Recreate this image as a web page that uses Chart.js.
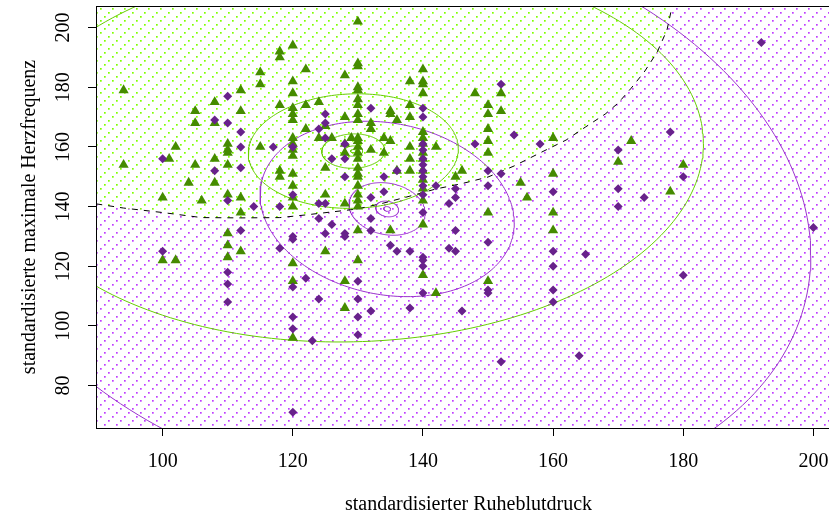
<!DOCTYPE html>
<html lang="de">
<head>
<meta charset="utf-8">
<script src="https://cdn.jsdelivr.net/npm/chart.js@4.4.0/dist/chart.umd.min.js"></script>
<style>
  html, body { margin: 0; padding: 0; background: #fff; overflow: hidden; }
  #wrap { width: 841px; height: 518px; }
</style>
</head>
<body>
<div id="wrap"><canvas id="plot" width="841" height="518"></canvas></div>
<script>
// Patienten ohne Herzerkrankung (Dreiecke)
const gesundX = [94,94,100,100,102,101,102,104,105,105,105,106,108,108,108,108,110,110,110,110,110,110,110,110,112,112,112,112,112,115,115,115,
  118,118,118,118,118,120,120,120,120,120,120,120,120,120,120,120,120,120,120,120,120,120,
  122,122,122,124,124,125,126,125,125,125,128,128,128,128,128,128,128,129,
  130,130,130,130,130,130,130,130,130,130,130,130,130,130,130,130,130,130,130,130,130,130,130,
  132,132,132,134,135,134,135,135,136,136,135,138,138,138,138,138,138,
  140,140,140,140,140,140,140,140,140,140,140,140,140,140,140,
  142,142,145,146,148,150,150,150,150,150,150,150,152,152,155,156,160,160,160,160,170,172,178,180];
const gesundY = [179,154,143,122,122,156,160,148,172,168,154,142,175,168,156,148,161,159,158,154,144,131,127,123,179,172,143,138,125,185,181,160,
  192,190,174,152,150,194,182,178,173,171,169,163,161,159,157,151,147,143,140,121,115,96,
  186,174,166,175,163,167,163,153,144,125,184,170,161,158,141,115,106,163,
  202,188,187,180,179,176,174,171,169,163,162,160,158,156,153,151,150,147,144,142,140,132,122,
  168,166,159,163,162,158,172,171,169,152,132,182,174,170,160,156,152,
  186,182,181,178,165,163,161,158,156,152,149,146,142,134,117,
  160,111,150,152,178,174,171,166,162,158,138,115,178,172,148,143,163,151,138,132,155,162,145,154];

// Patienten mit Herzerkrankung (Rauten)
const krankX = [100,100,108,108,110,110,110,110,110,110,112,112,112,112,114,117,118,118,
  120,120,120,120,120,120,120,120,
  122,123,124,124,124,124,125,125,125,125,125,126,126,128,128,128,128,128,
  130,130,130,130,
  132,132,132,132,132,134,134,135,136,136,138,138,
  140,140,140,140,140,140,140,140,140,140,140,140,140,140,140,
  142,144,144,145,145,145,145,146,148,150,150,150,150,150,152,152,152,154,158,160,160,160,160,160,164,165,170,170,170,174,178,180,180,192,200];
const krankY = [156,125,169,152,177,168,142,118,114,108,165,160,153,132,140,160,140,126,
  160,144,130,129,113,103,99,71,
  116,95,166,141,136,109,171,168,163,141,131,156,134,161,156,150,131,130,
  115,109,103,97,
  173,143,136,132,105,150,145,127,152,125,125,106,
  173,170,161,159,156,154,152,150,147,144,138,123,122,120,111,
  147,141,126,146,143,132,125,105,161,152,147,128,112,111,181,151,88,164,161,145,125,120,112,108,90,124,159,146,140,143,165,150,117,195,133];

// Achsen
const xTicks = [100, 120, 140, 160, 180, 200];
const yTicks = [80, 100, 120, 140, 160, 180, 200];
const xRange = [89.76, 204.24];
const yRange = [65.76, 207.24];

// Dichtekonturen je Klasse: Zentrum, Halbachsen der aeussersten Kontur, Korrelation
const gesundZentrum = [129.3, 158.6];
const gesundAchsen = [53.8, 64.0];
const gesundRho = 0.04;
const krankZentrum = [134.5, 139.2];
const krankAchsen = [65.1, 98.0];
const krankRho = -0.16;
const konturStufen = [1, 0.3, 0.09, 0.027, 0.0081];

// Klassengrenze (QDA)
const grenzeX = [89.8, 94, 100, 106, 112, 118, 122, 126, 130, 134, 138, 142, 146, 150, 154, 158, 162, 165, 168, 170, 172, 174, 176, 177.5, 178.3];
const grenzeY = [140.9, 139.5, 138.0, 136.3, 136.2, 136.3, 137.2, 138.2, 139.2, 141.2, 143.5, 145.9, 147.7, 149.9, 153.6, 158.0, 162.3, 166.7, 171.0, 174.7, 179.7, 185.1, 191.8, 199.2, 207.2];

const serif = { family: 'Liberation Serif', size: 20 };

function zip(xs, ys) {
  return xs.map((x, i) => ({ x: x, y: ys[i] }));
}

function kontur(zentrum, achsen, rho, k) {
  const pts = [];
  for (let i = 0; i <= 240; i++) {
    const t = i / 240 * 2 * Math.PI;
    pts.push({
      x: zentrum[0] + k * achsen[0] * Math.cos(t),
      y: zentrum[1] + k * achsen[1] * (rho * Math.cos(t) + Math.sqrt(1 - rho * rho) * Math.sin(t))
    });
  }
  return pts;
}

function linie(data, farbe, order, dash) {
  return {
    data: data, showLine: true, borderColor: farbe, borderWidth: 1,
    borderDash: dash || [], pointRadius: 0, tension: 0, order: order
  };
}

function muster(ctx, farbe) {
  const tile = document.createElement('canvas');
  tile.width = 12; tile.height = 12;
  const c = tile.getContext('2d');
  c.fillStyle = farbe;
  [[0, 0], [4, 8], [8, 4]].forEach(p => c.fillRect(p[0], p[1], 1.7, 1.7));
  return ctx.createPattern(tile, 'repeat');
}

// punktierte Flaechen fuer die beiden Vorhersagebereiche, dazu der Rahmen
const regionen = {
  id: 'regionen',
  beforeDatasetsDraw(chart) {
    const { ctx, chartArea: a, scales: { x, y } } = chart;
    ctx.save();
    ctx.beginPath();
    ctx.rect(a.left, a.top, a.right - a.left, a.bottom - a.top);
    ctx.clip();
    ctx.fillStyle = muster(ctx, '#BF3EFF');
    ctx.fillRect(a.left, a.top, a.right - a.left, a.bottom - a.top);
    ctx.beginPath();
    ctx.moveTo(a.left - 2, a.top - 2);
    ctx.lineTo(a.left - 2, y.getPixelForValue(grenzeY[0]));
    grenzeX.forEach((gx, i) => ctx.lineTo(x.getPixelForValue(gx), y.getPixelForValue(grenzeY[i])));
    ctx.lineTo(x.getPixelForValue(grenzeX[grenzeX.length - 1]), a.top - 2);
    ctx.closePath();
    ctx.fillStyle = '#fff';
    ctx.fill();
    ctx.fillStyle = muster(ctx, '#7FFF00');
    ctx.fill();
    ctx.restore();
  },
  afterDraw(chart) {
    const { ctx, chartArea: a } = chart;
    ctx.save();
    ctx.strokeStyle = '#000';
    ctx.lineWidth = 1;
    ctx.strokeRect(a.left + 0.5, a.top + 0.5, a.right - a.left, a.bottom - a.top);
    ctx.restore();
  }
};

const datasets = [
  { data: zip(krankX, krankY), pointStyle: 'rectRot', pointRadius: 4.5, backgroundColor: '#68228B', borderWidth: 0, order: 0 },
  { data: zip(gesundX, gesundY), pointStyle: 'triangle', pointRadius: 5.9, backgroundColor: '#458B00', borderWidth: 0, order: 1 },
  linie(zip(grenzeX, grenzeY), '#000', 2, [6, 6])
];
konturStufen.forEach(k => {
  datasets.push(linie(kontur(gesundZentrum, gesundAchsen, gesundRho, k), '#66CD00', 3));
  datasets.push(linie(kontur(krankZentrum, krankAchsen, krankRho, k), '#9A32CD', 3));
});

new Chart(document.getElementById('plot'), {
  type: 'scatter',
  data: { datasets: datasets },
  options: {
    responsive: false,
    animation: false,
    layout: { autoPadding: false, padding: { top: 6, right: 0, bottom: 0, left: 0 } },
    plugins: { legend: { display: false }, tooltip: { enabled: false } },
    scales: {
      x: {
        type: 'linear', min: xRange[0], max: xRange[1],
        afterBuildTicks: s => { s.ticks = xTicks.map(v => ({ value: v })); },
        afterFit: s => { s.height = 90; s.paddingLeft = 0; s.paddingRight = 0; },
        border: { display: false },
        grid: { drawOnChartArea: false, drawTicks: true, tickLength: 8, color: '#000', lineWidth: 1 },
        ticks: { color: '#000', font: serif, padding: 14, maxRotation: 0, autoSkip: false },
        title: { display: true, text: 'standardisierter Ruheblutdruck', color: '#000', font: serif, padding: { top: 0, bottom: 1 } }
      },
      y: {
        type: 'linear', min: yRange[0], max: yRange[1],
        afterBuildTicks: s => { s.ticks = yTicks.map(v => ({ value: v })); },
        afterFit: s => { s.width = 96; s.paddingTop = 0; s.paddingBottom = 0; },
        border: { display: false },
        grid: { drawOnChartArea: false, drawTicks: true, tickLength: 8, color: '#000', lineWidth: 1 },
        ticks: { color: '#000', font: serif, padding: 9, minRotation: 90, maxRotation: 90, crossAlign: 'center', autoSkip: false },
        title: { display: true, text: 'standardisierte maximale Herzfrequenz', color: '#000', font: serif, padding: { top: 18, bottom: 0 } }
      }
    }
  },
  plugins: [regionen]
});
</script>
</body>
</html>
